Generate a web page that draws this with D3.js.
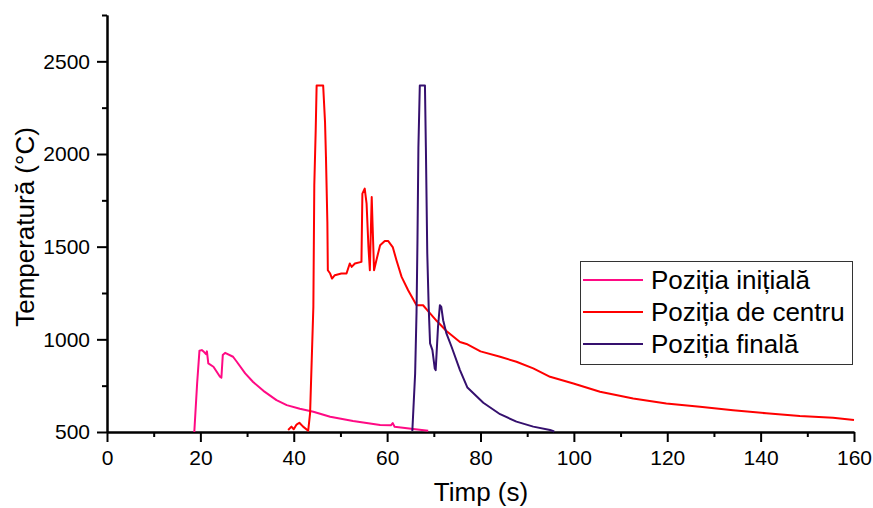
<!DOCTYPE html>
<html>
  <head>
    <meta charset="utf-8">
    <script src="https://d3js.org/d3.v7.min.js"></script>
    <style>
      body { margin: 0; background: white; }
      svg text { font-family: "Liberation Sans", Arial, sans-serif; fill: black; }
      .axis path, .axis line { stroke: black; stroke-width: 2; }
    </style>
  </head>
<body>
  <svg id="chart" width="873" height="508"></svg>
  <script type="text/javascript">
    // Pozitia initiala (pink)
    var timeInitiala = [18.7, 19.3, 19.8, 20.3, 20.8, 21.2, 21.4, 21.7, 22.8, 24.2, 24.5, 24.8, 25.3, 27.0, 27.8, 29.6, 31.3, 33.5, 36.3, 38.5, 41.3, 44.2, 47.8, 52.7, 58.5, 60.8, 61.2, 61.6, 65.6, 68.8];
    var tempInitiala = [500, 760, 938, 942, 931, 920, 935, 870, 852, 798, 793, 915, 927, 906, 879, 816, 770, 722, 672, 645, 625, 609, 582, 559, 538, 536, 548, 528, 516, 507];

    // Pozitia de centru (red)
    var timeCentru = [38.8, 39.5, 40.0, 40.6, 41.2, 42.0, 43.1, 43.5, 44.2, 44.4, 44.7, 44.9, 46.3, 46.7, 46.9, 47.2, 47.3, 47.8, 48.2, 48.8, 50.2, 51.3, 52.0, 52.4, 53.1, 54.5, 54.7, 55.2, 55.6, 56.0, 56.3, 56.7, 56.9, 57.2, 57.7, 58.5, 59.5, 60.2, 61.2, 62.0, 63.1, 64.5, 66.3, 67.7, 68.5, 70.6, 72.7, 75.6, 77.0, 80.0, 84.2, 87.7, 91.3, 94.9, 99.9, 105.6, 112.7, 119.8, 127, 134.1, 141.2, 148.4, 155.5, 160];
    var tempCentru = [511, 529, 515, 540, 550, 529, 507, 602, 1175, 1831, 2127, 2370, 2370, 2172, 1983, 1633, 1373, 1355, 1328, 1346, 1355, 1355, 1409, 1391, 1409, 1418, 1786, 1813, 1732, 1498, 1373, 1768, 1606, 1373, 1427, 1508, 1531, 1531, 1498, 1427, 1337, 1265, 1184, 1184, 1160, 1100, 1045, 986, 975, 935, 906, 879, 843, 798, 762, 717, 681, 654, 636, 618, 601, 586, 577, 565];

    // Pozitia finala (purple)
    var timeFinala = [65.4, 66.0, 66.3, 66.5, 66.7, 67.0, 68.1, 68.3, 68.6, 68.9, 69.2, 69.7, 70.2, 70.4, 70.9, 71.3, 71.6, 72.0, 72.7, 73.8, 75.6, 77.2, 80.6, 84.2, 87.7, 91.3, 94.9, 95.8];
    var tempFinala = [505, 816, 1148, 1534, 2037, 2370, 2370, 2037, 1463, 1175, 978, 942, 843, 834, 1067, 1184, 1175, 1103, 1032, 960, 834, 740, 658, 596, 556, 529, 511, 503];

    var seriesNames = ["Poziția inițială", "Poziția de centru", "Poziția finală"];
    var seriesColors = ["#ff0a84", "#ff0000", "#35106e"];

    var xTicks = [0, 20, 40, 60, 80, 100, 120, 140, 160];
    var yTicks = [500, 1000, 1500, 2000, 2500];

    var svg = d3.select("#chart");

    var x = d3.scaleLinear().domain([0, 160]).range([107, 854]);
    var y = d3.scaleLinear().domain([500, 2750]).range([432, 15]);

    //minor ticks first, then the major ones with labels
    svg.append("g")
      .attr("class", "axis")
      .attr("transform", "translate(0,432)")
      .call(d3.axisBottom(x).tickValues(d3.range(10, 160, 20)).tickSize(5).tickSizeOuter(0).tickFormat(""));
    svg.append("g")
      .attr("class", "axis")
      .attr("transform", "translate(107,0)")
      .call(d3.axisLeft(y).tickValues(d3.range(750, 2751, 500)).tickSize(5).tickSizeOuter(0).tickFormat(""));

    var xAxis = svg.append("g")
      .attr("class", "axis")
      .attr("transform", "translate(0,432)")
      .call(d3.axisBottom(x).tickValues(xTicks).tickSize(10).tickSizeOuter(0).tickPadding(8).tickFormat(d3.format("d")));
    xAxis.selectAll("text").style("font-size", "21px");

    var yAxis = svg.append("g")
      .attr("class", "axis")
      .attr("transform", "translate(107,0)")
      .call(d3.axisLeft(y).tickValues(yTicks).tickSize(10).tickSizeOuter(0).tickPadding(7).tickFormat(d3.format("d")));
    yAxis.selectAll("text").style("font-size", "21px");

    // axis titles
    svg.append("text")
      .attr("x", 481)
      .attr("y", 501)
      .attr("text-anchor", "middle")
      .style("font-size", "26px")
      .text("Timp (s)");
    svg.append("text")
      .attr("transform", "translate(34,227) rotate(-90)")
      .attr("text-anchor", "middle")
      .style("font-size", "26px")
      .text("Temperatură (°C)");

    // curves
    var series = [
      { t: timeInitiala, v: tempInitiala },
      { t: timeCentru, v: tempCentru },
      { t: timeFinala, v: tempFinala }
    ];
    var line = d3.line()
      .x(function(d) { return x(d[0]); })
      .y(function(d) { return y(d[1]); });

    series.forEach(function(s, i) {
      var pts = s.t.map(function(t, j) { return [t, s.v[j]]; });
      svg.append("path")
        .datum(pts)
        .attr("fill", "none")
        .attr("stroke", seriesColors[i])
        .attr("stroke-width", 2)
        .attr("stroke-linejoin", "round")
        .attr("d", line);
    });

    // legend
    var legend = svg.append("g");
    legend.append("rect")
      .attr("x", 580.5).attr("y", 261.5)
      .attr("width", 272).attr("height", 103)
      .attr("fill", "white")
      .attr("stroke", "#333")
      .attr("stroke-width", 1);
    seriesNames.forEach(function(name, i) {
      var ly = 280 + i * 32;
      legend.append("line")
        .attr("x1", 583).attr("x2", 643)
        .attr("y1", ly).attr("y2", ly)
        .attr("stroke", seriesColors[i])
        .attr("stroke-width", 2);
      legend.append("text")
        .attr("x", 651)
        .attr("y", ly + 9)
        .style("font-size", "26px")
        .text(name);
    });
  </script>
</body>
</html>
